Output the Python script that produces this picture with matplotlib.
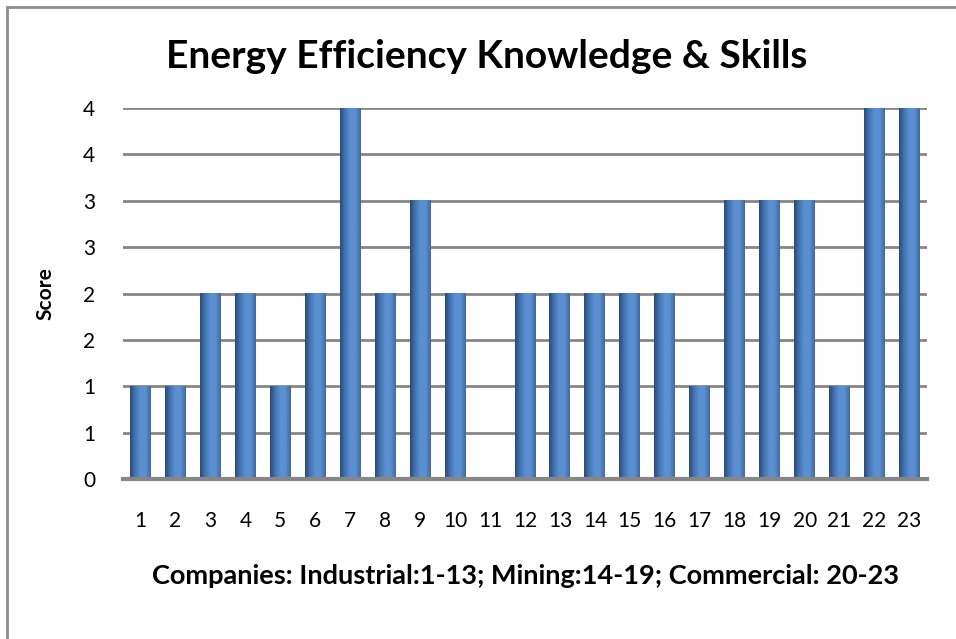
import numpy as np
import matplotlib.pyplot as plt
from matplotlib.colors import LinearSegmentedColormap
from matplotlib.patches import Rectangle

companies = [str(i) for i in range(1, 24)]
scores = [1, 1, 2, 2, 1, 2, 4, 2, 3, 2, 0, 2, 2, 2, 2, 2, 1, 3, 3, 3, 1, 4, 4]
yticks = [0, 0.5, 1, 1.5, 2, 2.5, 3, 3.5, 4]

plt.rcParams['font.family'] = ['Lato', 'DejaVu Sans']

fig = plt.figure(figsize=(9.56, 6.39), dpi=100)
ax = fig.add_axes([123 / 956, 1 - 479 / 639, 804 / 956, 371 / 639])

# outer chart border (left/top only, the rest is cut off)
fig.add_artist(Rectangle((7 / 956, -0.1), 1.2, (639 - 7) / 639 + 0.1,
                         transform=fig.transFigure, fill=False,
                         edgecolor='#8c8c8c', linewidth=2))

# cylinder-like shading for the bars
shade = LinearSegmentedColormap.from_list(
    'bar', ['#2c4a70', '#4576b4', '#5a8fd2', '#5b8fd0', '#3d6aa3'])
grad = np.linspace(0, 1, 64).reshape(1, -1)

x = np.arange(len(companies))
w = 0.6
bars = ax.bar(x, scores, width=w, color='none', zorder=3)
for b in bars:
    h = b.get_height()
    if h <= 0:
        continue
    ax.imshow(grad, cmap=shade, aspect='auto', zorder=3,
              extent=[b.get_x(), b.get_x() + b.get_width(), 0, h])

ax.set_xlim(-0.5, len(companies) - 0.5)
ax.set_ylim(0, 4)
ax.set_yticks(yticks)
ax.set_yticklabels([str(int(v + 0.5)) if v % 1 else str(int(v)) for v in yticks])
ax.set_xticks(x)
ax.set_xticklabels(companies)

ax.grid(axis='y', color='#868686', linewidth=2, zorder=1)
for s in ['left', 'right', 'top']:
    ax.spines[s].set_visible(False)
ax.spines['bottom'].set_color('#868686')
ax.spines['bottom'].set_linewidth(3)
ax.spines['bottom'].set_zorder(4)
ax.tick_params(length=0, labelsize=15)
ax.tick_params(axis='x', pad=23)
ax.tick_params(axis='y', pad=20)

fig.text(487 / 956, 1 - 57 / 639, 'Energy Efficiency Knowledge & Skills',
         fontsize=28, fontweight='bold', ha='center', va='center')
ax.set_ylabel('Score', fontsize=15, fontweight='bold', labelpad=20)
ax.set_xlabel('Companies: Industrial:1-13; Mining:14-19; Commercial: 20-23',
              fontsize=19.5, fontweight='bold', labelpad=24)

fig.savefig('out.png', dpi=100)
